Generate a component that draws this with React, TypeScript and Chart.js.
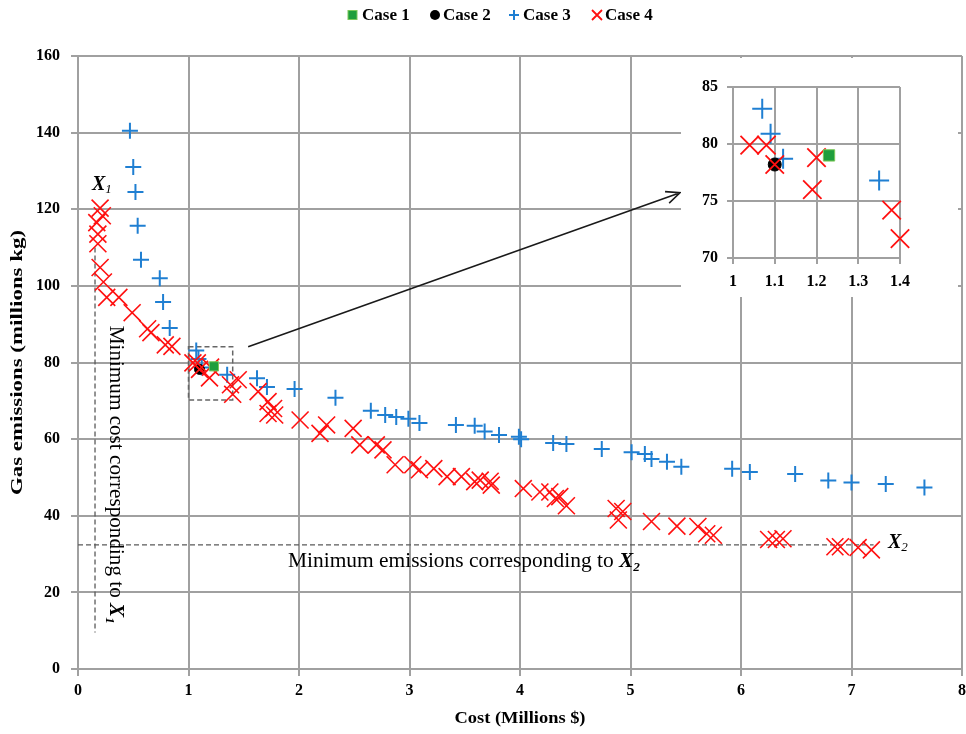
import React, { useEffect, useRef } from "react";
import { Chart, registerables } from "chart.js";
Chart.register(...registerables);

// ---------------- data ----------------
const case1X = [1.23];
const case1Y = [79.0];
const case2X = [1.1];
const case2Y = [78.2];
const case3X = [0.47, 0.5, 0.52, 0.54, 0.57, 0.74, 0.77, 0.83, 1.07, 1.09, 1.12, 1.35, 1.62, 1.71, 1.96, 2.33, 2.65, 2.78, 2.88, 2.99, 3.09, 3.42, 3.59, 3.68, 3.81, 3.99, 4.01, 4.3, 4.42, 4.74, 5.01, 5.13, 5.19, 5.33, 5.46, 5.92, 6.08, 6.49, 6.79, 7.0, 7.31, 7.66];
const case3Y = [140.5, 131, 124.5, 115.7, 106.8, 102, 95.8, 89, 83.1, 80.9, 78.7, 76.8, 75.9, 73.6, 73.1, 70.8, 67.4, 66.3, 65.8, 65.3, 64.2, 63.7, 63.5, 62.0, 61.1, 60.6, 60.0, 59.0, 58.7, 57.4, 56.6, 56.1, 54.8, 54.1, 52.8, 52.3, 51.4, 50.9, 49.2, 48.7, 48.3, 47.4];
const case4X = [0.2, 0.22, 0.17, 0.18, 0.18, 0.2, 0.23, 0.26, 0.37, 0.49, 0.63, 0.66, 0.79, 0.85, 1.04, 1.08, 1.1, 1.2, 1.19, 1.38, 1.4, 1.45, 1.63, 1.72, 1.77, 1.72, 1.78, 2.01, 2.19, 2.25, 2.49, 2.55, 2.7, 2.76, 2.87, 3.03, 3.09, 3.22, 3.34, 3.47, 3.59, 3.64, 3.74, 3.73, 4.03, 4.18, 4.27, 4.32, 4.36, 4.42, 4.87, 4.93, 4.89, 5.19, 5.42, 5.61, 5.69, 5.75, 6.25, 6.32, 6.38, 6.85, 6.9, 7.06, 7.18];
const case4Y = [120.3, 118.3, 116.5, 113.5, 111, 104.8, 101, 97, 97, 93, 88.8, 87.8, 84.6, 84.2, 79.9, 79.9, 78.2, 78.8, 76.0, 74.2, 71.7, 75.5, 72.4, 69.8, 68.0, 66.7, 66.3, 65.0, 61.5, 63.7, 62.8, 58.5, 58.5, 57.2, 53.3, 53.3, 52.0, 52.3, 50.2, 50.2, 48.9, 49.3, 48.0, 49.0, 47.1, 46.2, 46.2, 44.5, 45.0, 42.6, 41.9, 41.1, 38.9, 38.5, 37.3, 37.2, 35.3, 34.9, 33.8, 33.8, 34.0, 31.9, 31.9, 31.7, 31.1];

const seriesNames = ["Case 1", "Case 2", "Case 3", "Case 4"];

const mainX = { min: 0, max: 8, step: 1 };
const mainY = { min: 0, max: 160, step: 20 };
const insetX = { min: 1, max: 1.4, step: 0.1 };
const insetY = { min: 70, max: 85, step: 5 };

// annotation anchors (data units)
const x1Line = { x: 0.154, yTop: 110, yBottom: 9.5 };
const x2Line = { y: 32.4, xStart: 0, xEnd: 7.2 };
const zoomBox = { x0: 1.0, x1: 1.4, y0: 70.2, y1: 84.1 };
const arrow = { x0: 1.54, y0: 84.1, x1: 5.448, y1: 124.3 };

// ---------------- styles ----------------
const SERIF = "'Liberation Serif', 'Times New Roman', serif";
const GRID = "#a0a0a0";
const BLUE = "#1f7fd2";
const RED = "#ff1010";
const GREEN = "#1f9e3c";
const GREEN_B = "#7cc85a";

const pts = (xs: number[], ys: number[]) => xs.map((x, i) => ({ x, y: ys[i] }));

function makeDatasets(big: boolean) {
  return [
    {
      label: seriesNames[0], data: pts(case1X, case1Y), pointStyle: "rect",
      pointRadius: big ? 8 : 6.5, backgroundColor: GREEN, borderColor: GREEN_B, pointBorderWidth: 1, order: 0, clip: 16,
    },
    {
      label: seriesNames[1], data: pts(case2X, case2Y), pointStyle: "circle",
      pointRadius: big ? 6.5 : 5, backgroundColor: "#000", borderColor: "#000", pointBorderWidth: 1, order: 2, clip: 16,
    },
    {
      label: seriesNames[2], data: pts(case3X, case3Y), pointStyle: "cross",
      pointRadius: big ? 10 : 8, backgroundColor: BLUE, borderColor: BLUE, pointBorderWidth: 2, order: 3, clip: 16,
    },
    {
      label: seriesNames[3], data: pts(case4X, case4Y), pointStyle: "crossRot",
      pointRadius: big ? 13 : 12, backgroundColor: RED, borderColor: RED, pointBorderWidth: big ? 1.8 : 1.6, order: 1, clip: 16,
    },
  ];
}

type Seg = { t: string; font: string; dy?: number };
function drawRich(ctx: CanvasRenderingContext2D, segs: Seg[], x: number, y: number, angle: number, align: "left" | "center", baseline: CanvasTextBaseline, targetLen?: number) {
  ctx.save();
  ctx.translate(x, y);
  ctx.rotate(angle);
  let total = 0;
  const widths: number[] = [];
  for (const s of segs) {
    ctx.font = s.font;
    const w = ctx.measureText(s.t).width;
    widths.push(w);
    total += w;
  }
  if (targetLen) {
    ctx.scale(targetLen / total, 1);
  }
  let cx = align === "center" ? -total / 2 : 0;
  ctx.textAlign = "left";
  ctx.textBaseline = baseline;
  ctx.fillStyle = "#000";
  segs.forEach((s, i) => {
    ctx.font = s.font;
    ctx.fillText(s.t, cx, s.dy || 0);
    cx += widths[i];
  });
  ctx.restore();
}

function tickFont() {
  return { family: SERIF, size: 16, weight: "bold" as const };
}

const mainPlugin = {
  id: "mainDecor",
  beforeDatasetsDraw(chart: any) {
    const ctx: CanvasRenderingContext2D = chart.ctx;
    const xs = chart.scales.x, ys = chart.scales.y;
    ctx.save();
    ctx.strokeStyle = "#5a5a5a";
    ctx.lineWidth = 1.3;
    ctx.setLineDash([5, 3]);
    ctx.beginPath();
    ctx.moveTo(xs.getPixelForValue(x1Line.x), ys.getPixelForValue(x1Line.yTop));
    ctx.lineTo(xs.getPixelForValue(x1Line.x), ys.getPixelForValue(x1Line.yBottom));
    ctx.stroke();
    ctx.beginPath();
    ctx.moveTo(xs.getPixelForValue(x2Line.xStart), ys.getPixelForValue(x2Line.y));
    ctx.lineTo(xs.getPixelForValue(x2Line.xEnd), ys.getPixelForValue(x2Line.y));
    ctx.stroke();
    ctx.strokeStyle = "#666";
    ctx.lineWidth = 1.5;
    const bx0 = xs.getPixelForValue(zoomBox.x0), bx1 = xs.getPixelForValue(zoomBox.x1);
    const by0 = ys.getPixelForValue(zoomBox.y1), by1 = ys.getPixelForValue(zoomBox.y0);
    ctx.strokeRect(bx0, by0, bx1 - bx0, by1 - by0);
    ctx.restore();
  },
  afterDraw(chart: any) {
    const ctx: CanvasRenderingContext2D = chart.ctx;
    const xs = chart.scales.x, ys = chart.scales.y;
    const area = chart.chartArea;

    const ax0 = xs.getPixelForValue(arrow.x0), ay0 = ys.getPixelForValue(arrow.y0);
    const ax1 = xs.getPixelForValue(arrow.x1), ay1 = ys.getPixelForValue(arrow.y1);
    ctx.save();
    ctx.strokeStyle = "#1a1a1a";
    ctx.lineWidth = 1.6;
    ctx.beginPath();
    ctx.moveTo(ax0, ay0);
    ctx.lineTo(ax1, ay1);
    const ang = Math.atan2(ay1 - ay0, ax1 - ax0);
    const hl = 15, ha = 0.42;
    ctx.moveTo(ax1 - hl * Math.cos(ang - ha), ay1 - hl * Math.sin(ang - ha));
    ctx.lineTo(ax1, ay1);
    ctx.lineTo(ax1 - hl * Math.cos(ang + ha), ay1 - hl * Math.sin(ang + ha));
    ctx.stroke();
    ctx.restore();

    drawRich(ctx, [
      { t: "X", font: `italic bold 20px ${SERIF}` },
      { t: "1", font: `italic 13px ${SERIF}`, dy: 3 },
    ], xs.getPixelForValue(0.127), ys.getPixelForValue(125), 0, "left", "alphabetic");
    drawRich(ctx, [
      { t: "X", font: `italic bold 20px ${SERIF}` },
      { t: "2", font: `italic 13px ${SERIF}`, dy: 3 },
    ], xs.getPixelForValue(7.33), ys.getPixelForValue(31.6), 0, "left", "alphabetic");

    drawRich(ctx, [
      { t: "Minimum emissions corresponding to ", font: `21px ${SERIF}` },
      { t: "X", font: `italic bold 21px ${SERIF}` },
      { t: "2", font: `italic bold 13px ${SERIF}`, dy: 4 },
    ], xs.getPixelForValue(1.9), ys.getPixelForValue(26.6), 0, "left", "alphabetic", 352);

    drawRich(ctx, [
      { t: "Minimum cost corresponding to ", font: `21px ${SERIF}` },
      { t: "X", font: `italic bold 21px ${SERIF}` },
      { t: "1", font: `italic bold 13px ${SERIF}`, dy: 4 },
    ], xs.getPixelForValue(0.29), ys.getPixelForValue(89.6), Math.PI / 2, "left", "alphabetic", 298);

    drawRich(ctx, [{ t: "Cost (Millions $)", font: `bold 17px ${SERIF}` }],
      (area.left + area.right) / 2, 719, 0, "center", "middle", 131);
    drawRich(ctx, [{ t: "Gas emissions (millions kg)", font: `bold 17px ${SERIF}` }],
      18, (area.top + area.bottom) / 2, -Math.PI / 2, "center", "middle", 265);

    ctx.save();
    const ly = 15;
    ctx.fillStyle = GREEN;
    ctx.fillRect(348, ly - 4.5, 9, 9);
    ctx.strokeStyle = GREEN_B;
    ctx.lineWidth = 1;
    ctx.strokeRect(348, ly - 4.5, 9, 9);
    ctx.fillStyle = "#000";
    ctx.beginPath();
    ctx.arc(435, ly, 5, 0, Math.PI * 2);
    ctx.fill();
    ctx.strokeStyle = BLUE;
    ctx.lineWidth = 2;
    ctx.beginPath();
    ctx.moveTo(509, ly); ctx.lineTo(519, ly);
    ctx.moveTo(514, ly - 5); ctx.lineTo(514, ly + 5);
    ctx.stroke();
    ctx.strokeStyle = RED;
    ctx.lineWidth = 1.8;
    ctx.beginPath();
    ctx.moveTo(592, ly - 5); ctx.lineTo(602, ly + 5);
    ctx.moveTo(602, ly - 5); ctx.lineTo(592, ly + 5);
    ctx.stroke();
    ctx.restore();
    const lf = `bold 17px ${SERIF}`;
    drawRich(ctx, [{ t: seriesNames[0], font: lf }], 362, ly + 1, 0, "left", "middle");
    drawRich(ctx, [{ t: seriesNames[1], font: lf }], 443, ly + 1, 0, "left", "middle");
    drawRich(ctx, [{ t: seriesNames[2], font: lf }], 523, ly + 1, 0, "left", "middle");
    drawRich(ctx, [{ t: seriesNames[3], font: lf }], 605, ly + 1, 0, "left", "middle");
  },
};

const insetBg = {
  id: "insetBg",
  beforeDraw(chart: any) {
    const ctx: CanvasRenderingContext2D = chart.ctx;
    ctx.save();
    ctx.fillStyle = "#fff";
    ctx.fillRect(0, 0, chart.width, chart.height);
    ctx.restore();
  },
};

function axisOpts(r: { min: number; max: number; step: number }, opts: any) {
  return {
    type: "linear",
    min: r.min,
    max: r.max,
    ticks: {
      stepSize: r.step,
      font: tickFont(),
      color: "#000",
      padding: opts.padding,
      callback: (v: number) => String(Math.round(v * 10) / 10),
    },
    grid: { color: GRID, lineWidth: 2, tickLength: opts.tick, tickColor: GRID, drawTicks: true },
    border: { color: GRID, width: 2 },
    afterFit: opts.afterFit,
  };
}

export default function App() {
  const mainRef = useRef<HTMLCanvasElement>(null);
  const insetRef = useRef<HTMLCanvasElement>(null);

  useEffect(() => {
    const main = new Chart(mainRef.current!, {
      type: "scatter",
      data: { datasets: makeDatasets(false) as any },
      options: {
        responsive: false,
        animation: false,
        devicePixelRatio: 1,
        events: [],
        layout: { autoPadding: false, padding: { top: 56, right: 4, left: 0, bottom: 0 } },
        plugins: { legend: { display: false }, tooltip: { enabled: false } },
        scales: {
          x: axisOpts(mainX, {
            padding: 5, tick: 7,
            afterFit: (s: any) => { s.height = 65; s.paddingLeft = 0; s.paddingRight = 0; },
          }),
          y: axisOpts(mainY, {
            padding: 11, tick: 7,
            afterFit: (s: any) => { s.width = 78; s.paddingTop = 0; s.paddingBottom = 0; },
          }),
        } as any,
      } as any,
      plugins: [mainPlugin],
    });

    const inset = new Chart(insetRef.current!, {
      type: "scatter",
      data: { datasets: makeDatasets(true) as any },
      options: {
        responsive: false,
        animation: false,
        devicePixelRatio: 1,
        events: [],
        layout: { autoPadding: false, padding: { top: 29, right: 58, left: 0, bottom: 0 } },
        plugins: { legend: { display: false }, tooltip: { enabled: false } },
        scales: {
          x: axisOpts(insetX, {
            padding: 8, tick: 6,
            afterFit: (s: any) => { s.height = 39; s.paddingLeft = 0; s.paddingRight = 0; },
          }),
          y: axisOpts(insetY, {
            padding: 9, tick: 6,
            afterFit: (s: any) => { s.width = 52; s.paddingTop = 0; s.paddingBottom = 0; },
          }),
        } as any,
      } as any,
      plugins: [insetBg],
    });

    return () => {
      main.destroy();
      inset.destroy();
    };
  }, []);

  return (
    <div style={{ position: "absolute", left: 0, top: 0, width: 966, height: 734, background: "#fff" }}>
      <canvas ref={mainRef} width={966} height={734} style={{ position: "absolute", left: 0, top: 0 }} />
      <canvas ref={insetRef} width={277} height={239} style={{ position: "absolute", left: 681, top: 58 }} />
    </div>
  );
}
